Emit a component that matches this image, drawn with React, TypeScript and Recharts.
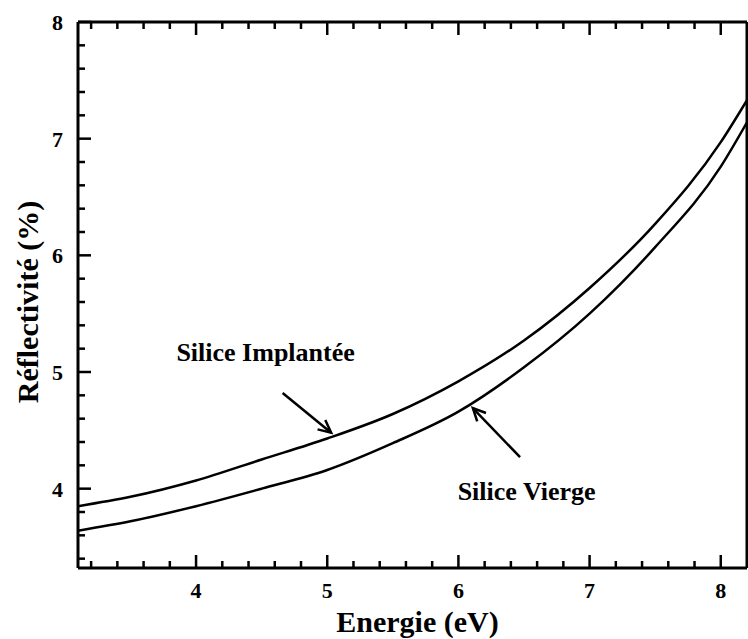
import React from 'react';
import {
    LineChart,
    Line,
    XAxis,
    YAxis,
    ReferenceLine,
    ReferenceDot,
    Label
} from 'recharts';

// energie (eV) et reflectivite (%)
const energies = [3.1, 3.5, 4, 4.5, 5, 5.5, 6, 6.5, 7, 7.5, 8, 8.2];
const implantee = [3.85, 3.93, 4.07, 4.25, 4.43, 4.64, 4.92, 5.27, 5.72, 6.27, 6.97, 7.33];
const vierge = [3.64, 3.72, 3.85, 4.0, 4.16, 4.39, 4.66, 5.04, 5.5, 6.07, 6.76, 7.14];

const xTicks = [3.2, 3.4, 3.6, 3.8, 4, 4.2, 4.4, 4.6, 4.8, 5, 5.2, 5.4, 5.6, 5.8, 6, 6.2, 6.4, 6.6, 6.8, 7, 7.2, 7.4, 7.6, 7.8, 8];
const yTicks = [3.4, 3.6, 3.8, 4, 4.2, 4.4, 4.6, 4.8, 5, 5.2, 5.4, 5.6, 5.8, 6, 6.2, 6.4, 6.6, 6.8, 7, 7.2, 7.4, 7.6, 7.8, 8];

// annotations: texte, position du texte, fleche (depart -> pointe)
const noteLabels = ['Silice Implantée', 'Silice Vierge'];
const noteText = [{ x: 4.53, y: 5.17 }, { x: 6.52, y: 3.98 }];
const noteArrows = [
    [{ x: 4.66, y: 4.82 }, { x: 5.03, y: 4.48 }],
    [{ x: 6.47, y: 4.27 }, { x: 6.11, y: 4.69 }],
];

const data = energies.map((e, i) => ({ e, implantee: implantee[i], vierge: vierge[i] }));

const FONT = '"Liberation Serif", "Times New Roman", serif';

const isMajor = (v: number) => Math.abs(v - Math.round(v)) < 1e-6;

// ticks tournes vers l'interieur, comme sur la figure d'origine
const BottomTick = (props: any) => {
    const x = Number(props.x);
    const y = Number(props.y);
    const major = isMajor(props.payload.value);
    return (
        <g>
            <path d={`M${x},${y}V${y - (major ? 13 : 7)}`} stroke="#000" strokeWidth={2.5} fill="none" />
            {major && (
                <text x={x} y={y + 30} textAnchor="middle" fontFamily={FONT} fontWeight="bold" fontSize={22} fill="#000">
                    {props.payload.value}
                </text>
            )}
        </g>
    );
};

const TopTick = (props: any) => {
    const x = Number(props.x);
    const y = Number(props.y);
    const major = isMajor(props.payload.value);
    return <path d={`M${x},${y}V${y + (major ? 13 : 7)}`} stroke="#000" strokeWidth={2.5} fill="none" />;
};

const LeftTick = (props: any) => {
    const x = Number(props.x);
    const y = Number(props.y);
    const major = isMajor(props.payload.value);
    return (
        <g>
            <path d={`M${x},${y}H${x + (major ? 13 : 7)}`} stroke="#000" strokeWidth={2.5} fill="none" />
            {major && (
                <text x={x - 15} y={y + 8} textAnchor="end" fontFamily={FONT} fontWeight="bold" fontSize={22} fill="#000">
                    {props.payload.value}
                </text>
            )}
        </g>
    );
};

const RightTick = (props: any) => {
    const x = Number(props.x);
    const y = Number(props.y);
    const major = isMajor(props.payload.value);
    return <path d={`M${x},${y}H${x - (major ? 13 : 5)}`} stroke="#000" strokeWidth={2.5} fill="none" />;
};

const Arrow = (props: any) => {
    const { x1, y1, x2, y2 } = props;
    const ang = Math.atan2(y2 - y1, x2 - x1);
    const len = 14;
    const spread = 0.45;
    const ax = x2 - len * Math.cos(ang - spread);
    const ay = y2 - len * Math.sin(ang - spread);
    const bx = x2 - len * Math.cos(ang + spread);
    const by = y2 - len * Math.sin(ang + spread);
    return (
        <g>
            <line x1={x1} y1={y1} x2={x2} y2={y2} stroke="#000" strokeWidth={2.5} />
            <polyline points={`${ax},${ay} ${x2},${y2} ${bx},${by}`} fill="none" stroke="#000" strokeWidth={2.5} />
        </g>
    );
};

const App = () => {
    return (
        <div style={{ position: 'absolute', left: 0, top: 0, width: 748, height: 639, background: '#fff' }}>
            <LineChart width={748} height={639} data={data} margin={{ top: 0, right: 0, bottom: 0, left: 0 }}>
                <XAxis
                    xAxisId="bottom"
                    dataKey="e"
                    type="number"
                    domain={[3.1, 8.2]}
                    ticks={xTicks}
                    interval={0}
                    height={71}
                    tickSize={0}
                    tickMargin={0}
                    tick={BottomTick}
                    axisLine={{ stroke: '#000', strokeWidth: 3 }}
                >
                    <Label
                        content={({ viewBox }: any) => (
                            <text
                                x={viewBox.x + viewBox.width / 2 + 5}
                                y={viewBox.y + 64}
                                textAnchor="middle"
                                fontFamily={FONT}
                                fontWeight="bold"
                                fontSize={30}
                                fill="#000"
                            >
                                Energie (eV)
                            </text>
                        )}
                    />
                </XAxis>
                <XAxis
                    xAxisId="top"
                    orientation="top"
                    dataKey="e"
                    type="number"
                    domain={[3.1, 8.2]}
                    ticks={xTicks}
                    interval={0}
                    height={22}
                    tickSize={0}
                    tickMargin={0}
                    tick={TopTick}
                    axisLine={{ stroke: '#000', strokeWidth: 3 }}
                />
                <YAxis
                    yAxisId="left"
                    type="number"
                    domain={[3.32, 8]}
                    ticks={yTicks}
                    interval={0}
                    width={78}
                    tickSize={0}
                    tickMargin={0}
                    tick={LeftTick}
                    axisLine={{ stroke: '#000', strokeWidth: 3 }}
                >
                    <Label
                        content={({ viewBox }: any) => {
                            const cx = viewBox.x + 27;
                            const cy = viewBox.y + viewBox.height / 2 + 7;
                            return (
                                <text
                                    x={cx}
                                    y={cy}
                                    transform={`rotate(-90 ${cx} ${cy})`}
                                    textAnchor="middle"
                                    dominantBaseline="central"
                                    fontFamily={FONT}
                                    fontWeight="bold"
                                    fontSize={30}
                                    fill="#000"
                                >
                                    Réflectivité (%)
                                </text>
                            );
                        }}
                    />
                </YAxis>
                <YAxis
                    yAxisId="right"
                    orientation="right"
                    type="number"
                    domain={[3.32, 8]}
                    ticks={yTicks}
                    interval={0}
                    width={1}
                    tickSize={0}
                    tickMargin={0}
                    tick={RightTick}
                    axisLine={{ stroke: '#000', strokeWidth: 3 }}
                />
                <Line
                    xAxisId="bottom"
                    yAxisId="left"
                    type="monotone"
                    dataKey="implantee"
                    stroke="#000"
                    strokeWidth={2.5}
                    dot={false}
                    isAnimationActive={false}
                />
                <Line
                    xAxisId="bottom"
                    yAxisId="left"
                    type="monotone"
                    dataKey="vierge"
                    stroke="#000"
                    strokeWidth={2.5}
                    dot={false}
                    isAnimationActive={false}
                />
                {noteArrows.map((seg, i) => (
                    <ReferenceLine
                        key={'arrow' + i}
                        xAxisId="bottom"
                        yAxisId="left"
                        segment={seg}
                        shape={<Arrow />}
                        ifOverflow="visible"
                    />
                ))}
                {noteLabels.map((txt, i) => (
                    <ReferenceDot
                        key={'note' + i}
                        xAxisId="bottom"
                        yAxisId="left"
                        x={noteText[i].x}
                        y={noteText[i].y}
                        r={0}
                        ifOverflow="visible"
                        shape={(p: any) => (
                            <text
                                x={p.cx}
                                y={p.cy}
                                textAnchor="middle"
                                dominantBaseline="central"
                                fontFamily={FONT}
                                fontWeight="bold"
                                fontSize={26}
                                fill="#000"
                            >
                                {txt}
                            </text>
                        )}
                    />
                ))}
            </LineChart>
        </div>
    );
};

export default App;
